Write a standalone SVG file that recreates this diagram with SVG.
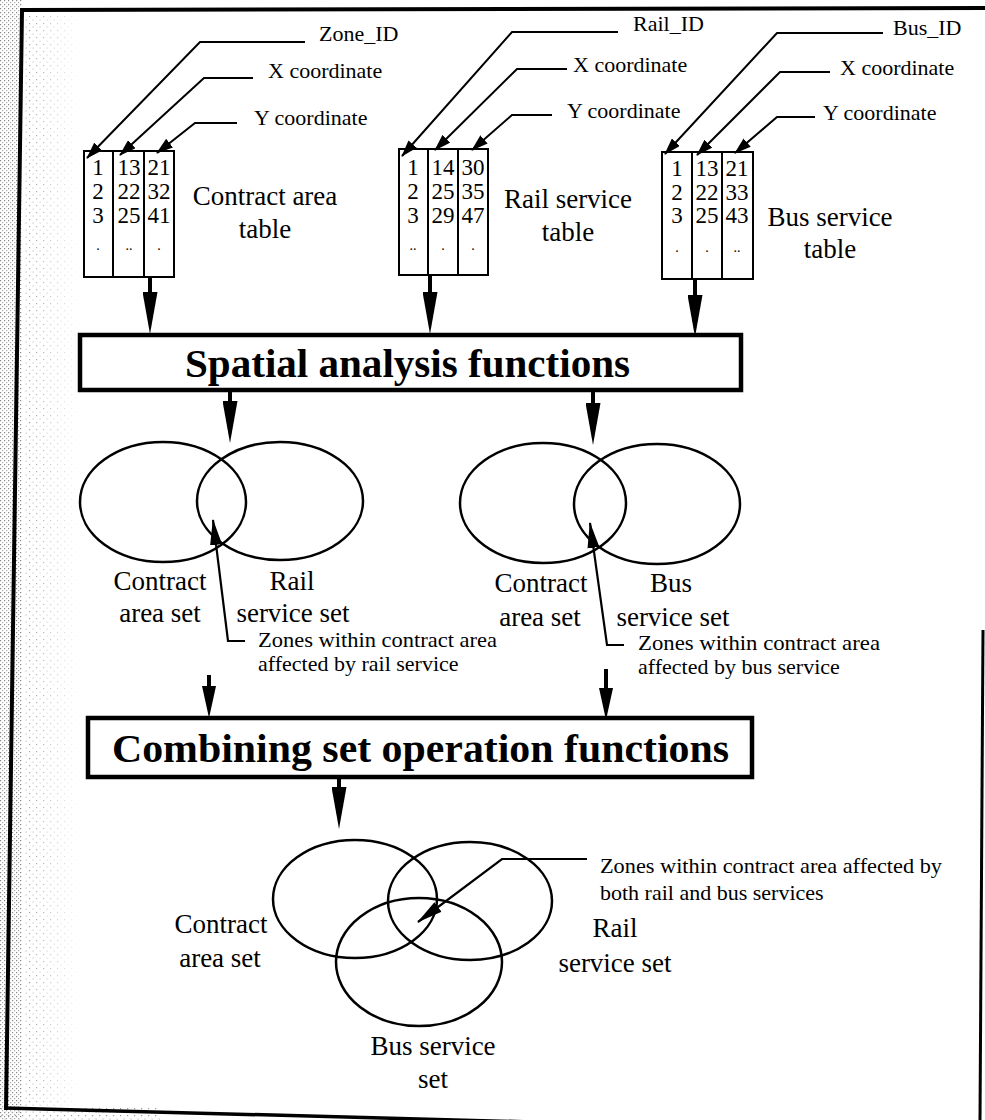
<svg xmlns="http://www.w3.org/2000/svg" width="985" height="1120" viewBox="0 0 985 1120">
<style>
text{font-family:"Liberation Serif","DejaVu Serif",serif;fill:#000}
.num{font-size:23px;text-anchor:middle}
.dot{font-size:14px;text-anchor:middle}
.lbl{font-size:27px;text-anchor:middle}
.lead{font-size:22px}
.ptr{font-size:22px}
.title{font-size:41px;font-weight:bold}
.cell{fill:#fff;stroke:#000;stroke-width:2}
.box{fill:#fff;stroke:#000;stroke-width:4.5}
.set{fill:none;stroke:#000;stroke-width:2.5}
.leader{fill:none;stroke:#000;stroke-width:2;marker-end:url(#leaderTip)}
.pointer{fill:none;stroke:#000;stroke-width:2.2;marker-end:url(#pointerTip)}
.flow{fill:none;stroke:#000;stroke-width:4;marker-end:url(#bigHead)}
.flow2{fill:none;stroke:#000;stroke-width:4;marker-end:url(#midHead)}
.edge{fill:none;stroke:#000;stroke-width:4}
</style>
<defs>
<marker id="bigHead" markerUnits="userSpaceOnUse" viewBox="0 0 42 15" markerWidth="42" markerHeight="15" refX="0" refY="7.5" orient="auto"><path d="M0,0 L42,7.5 L0,15 z" fill="#000"/></marker>
<marker id="midHead" markerUnits="userSpaceOnUse" viewBox="0 0 32 14" markerWidth="32" markerHeight="14" refX="0" refY="7" orient="auto"><path d="M0,0 L32,7 L0,14 z" fill="#000"/></marker>
<marker id="leaderTip" markerUnits="userSpaceOnUse" viewBox="0 0 17 11" markerWidth="17" markerHeight="11" refX="16" refY="5.5" orient="auto"><path d="M0,0 L17,5.5 L0,11 z" fill="#000"/></marker>
<marker id="pointerTip" markerUnits="userSpaceOnUse" viewBox="0 0 26 12" markerWidth="26" markerHeight="12" refX="25" refY="6" orient="auto"><path d="M0,0 L26,6 L0,12 z" fill="#000"/></marker>
<pattern id="stipple" width="4" height="4" patternUnits="userSpaceOnUse"><rect x="0" y="0" width="1.2" height="1.2" fill="#888"/><rect x="2" y="2" width="1.2" height="1.2" fill="#aaa"/></pattern>
<pattern id="stippleLight" width="7" height="7" patternUnits="userSpaceOnUse"><rect x="1" y="2" width="1.2" height="1.2" fill="#999"/><rect x="4.5" y="5.5" width="1.2" height="1.2" fill="#bbb"/></pattern>
<linearGradient id="fadeGrad" x1="0" y1="0" x2="1" y2="0"><stop offset="0" stop-color="#fff"/><stop offset="1" stop-color="#000"/></linearGradient>
<mask id="fade"><rect x="22" y="0" width="60" height="1120" fill="url(#fadeGrad)"/></mask>
</defs>
<rect width="985" height="1120" fill="#fff"/>
<g id="scan-texture">
<rect x="0" y="0" width="22" height="1120" fill="url(#stipple)"/>
<rect x="0" y="1108" width="160" height="12" fill="url(#stippleLight)"/>
<rect x="24" y="14" width="58" height="1092" fill="url(#stippleLight)" mask="url(#fade)"/>
</g>
<g id="frame">
<path class="edge" d="M6,1110 L22,10 L985,8"/>
<path d="M4,1108 L760,1128" fill="none" stroke="#000" stroke-width="3.5"/>
<path d="M983,630 L980,1120" fill="none" stroke="#000" stroke-width="3"/>
</g>

<g id="table-contract">
<rect class="cell" x="84" y="151" width="29" height="126"/>
<rect class="cell" x="113" y="151" width="31" height="126"/>
<rect class="cell" x="144" y="151" width="30" height="126"/>
<text class="num" x="98" y="175">1</text><text class="num" x="98" y="199">2</text><text class="num" x="98" y="223">3</text>
<text class="num" x="129" y="175">13</text><text class="num" x="129" y="199">22</text><text class="num" x="129" y="223">25</text>
<text class="num" x="159" y="175">21</text><text class="num" x="159" y="199">32</text><text class="num" x="159" y="223">41</text>
<text class="dot" x="98" y="250">.</text><text class="dot" x="129" y="250">..</text><text class="dot" x="159" y="250">.</text>
<text class="lbl" x="265" y="205">Contract area</text>
<text class="lbl" x="265" y="238">table</text>
<text class="lead" x="319" y="41">Zone_ID</text>
<text class="lead" x="268" y="78">X coordinate</text>
<text class="lead" x="254" y="125">Y coordinate</text>
</g>

<g id="table-rail">
<rect class="cell" x="399" y="149" width="29" height="126"/>
<rect class="cell" x="428" y="149" width="30" height="126"/>
<rect class="cell" x="458" y="149" width="30" height="126"/>
<text class="num" x="413" y="175">1</text><text class="num" x="413" y="199">2</text><text class="num" x="413" y="223">3</text>
<text class="num" x="443" y="175">14</text><text class="num" x="443" y="199">25</text><text class="num" x="443" y="223">29</text>
<text class="num" x="473" y="175">30</text><text class="num" x="473" y="199">35</text><text class="num" x="473" y="223">47</text>
<text class="dot" x="413" y="250">..</text><text class="dot" x="443" y="250">.</text><text class="dot" x="473" y="250">.</text>
<text class="lbl" x="568" y="208">Rail service</text>
<text class="lbl" x="568" y="241">table</text>
<text class="lead" x="633" y="31">Rail_ID</text>
<text class="lead" x="573" y="72">X coordinate</text>
<text class="lead" x="567" y="118">Y coordinate</text>
</g>

<g id="table-bus">
<rect class="cell" x="662" y="152" width="30" height="127"/>
<rect class="cell" x="692" y="152" width="30" height="127"/>
<rect class="cell" x="722" y="152" width="31" height="127"/>
<text class="num" x="677" y="176">1</text><text class="num" x="677" y="200">2</text><text class="num" x="677" y="223">3</text>
<text class="num" x="707" y="176">13</text><text class="num" x="707" y="200">22</text><text class="num" x="707" y="223">25</text>
<text class="num" x="737" y="176">21</text><text class="num" x="737" y="200">33</text><text class="num" x="737" y="223">43</text>
<text class="dot" x="677" y="252">.</text><text class="dot" x="707" y="252">.</text><text class="dot" x="737" y="252">..</text>
<text class="lbl" x="830" y="226">Bus service</text>
<text class="lbl" x="830" y="258">table</text>
<text class="lead" x="893" y="35">Bus_ID</text>
<text class="lead" x="840" y="75">X coordinate</text>
<text class="lead" x="823" y="120">Y coordinate</text>
</g>

<g id="box-spatial">
<rect class="box" x="80" y="335" width="661" height="55"/>
<text class="title" x="185" y="377" textLength="445" lengthAdjust="spacingAndGlyphs">Spatial analysis functions</text>
</g>

<g id="venn-rail">
<ellipse class="set" cx="163" cy="502" rx="83" ry="60"/>
<ellipse class="set" cx="280" cy="501" rx="83" ry="59"/>
<text class="lbl" x="160" y="590">Contract</text>
<text class="lbl" x="160" y="622">area set</text>
<text class="lbl" x="292" y="590">Rail</text>
<text class="lbl" x="293" y="622">service set</text>
<text class="ptr" x="258" y="647" textLength="239" lengthAdjust="spacingAndGlyphs">Zones within contract area</text>
<text class="ptr" x="258" y="671">affected by rail service</text>
</g>

<g id="venn-bus">
<ellipse class="set" cx="543" cy="503" rx="83" ry="60"/>
<ellipse class="set" cx="657" cy="504" rx="83" ry="60"/>
<text class="lbl" x="541" y="592">Contract</text>
<text class="lbl" x="540" y="626">area set</text>
<text class="lbl" x="671" y="592">Bus</text>
<text class="lbl" x="673" y="626">service set</text>
<text class="ptr" x="638" y="650" textLength="242" lengthAdjust="spacingAndGlyphs">Zones within contract area</text>
<text class="ptr" x="638" y="674">affected by bus service</text>
</g>

<g id="box-combining">
<rect class="box" x="88" y="718" width="664" height="59"/>
<text class="title" x="112" y="762" textLength="617" lengthAdjust="spacingAndGlyphs">Combining set operation functions</text>
</g>

<g id="venn-three">
<ellipse class="set" cx="355" cy="899" rx="82" ry="59"/>
<ellipse class="set" cx="470" cy="901" rx="82" ry="59"/>
<ellipse class="set" cx="419" cy="962" rx="83" ry="64"/>
<text class="lbl" x="221" y="933">Contract</text>
<text class="lbl" x="220" y="967">area set</text>
<text class="lbl" x="615" y="937">Rail</text>
<text class="lbl" x="615" y="972">service set</text>
<text class="lbl" x="433" y="1055">Bus service</text>
<text class="lbl" x="433" y="1088">set</text>
<text class="ptr" x="600" y="873" font-size="21" textLength="342" lengthAdjust="spacingAndGlyphs">Zones within contract area affected by</text>
<text class="ptr" x="600" y="900" font-size="21">both rail and bus services</text>
</g>

<g id="connectors">
<path class="leader" d="M305,42 L200,42 L87,158"/>
<path class="leader" d="M253,78 L204,78 L120,155"/>
<path class="leader" d="M237,123 L195,123 L157,153"/>
<path class="leader" d="M618,32 L512,32 L402,156"/>
<path class="leader" d="M567,69 L517,69 L435,150"/>
<path class="leader" d="M552,115 L512,115 L472,150"/>
<path class="leader" d="M883,33 L777,33 L665,154"/>
<path class="leader" d="M830,72 L780,72 L697,155"/>
<path class="leader" d="M815,117 L777,117 L735,153"/>
<path class="flow" d="M150,277 L150,292"/>
<path class="flow" d="M430,275 L430,292"/>
<path class="flow" d="M695,279 L695,295"/>
<path class="flow" d="M230,390 L230,401"/>
<path class="flow" d="M593,392 L593,403"/>
<path class="pointer" d="M245,641 L228,641 L213,520"/>
<path class="pointer" d="M624,645 L607,645 L590,523"/>
<path class="flow2" d="M209,675 L209,686"/>
<path class="flow2" d="M606,669 L606,688"/>
<path class="flow" d="M339,778 L339,787"/>
<path class="pointer" d="M587,859 L502,859 L418,922"/>
</g>
</svg>
